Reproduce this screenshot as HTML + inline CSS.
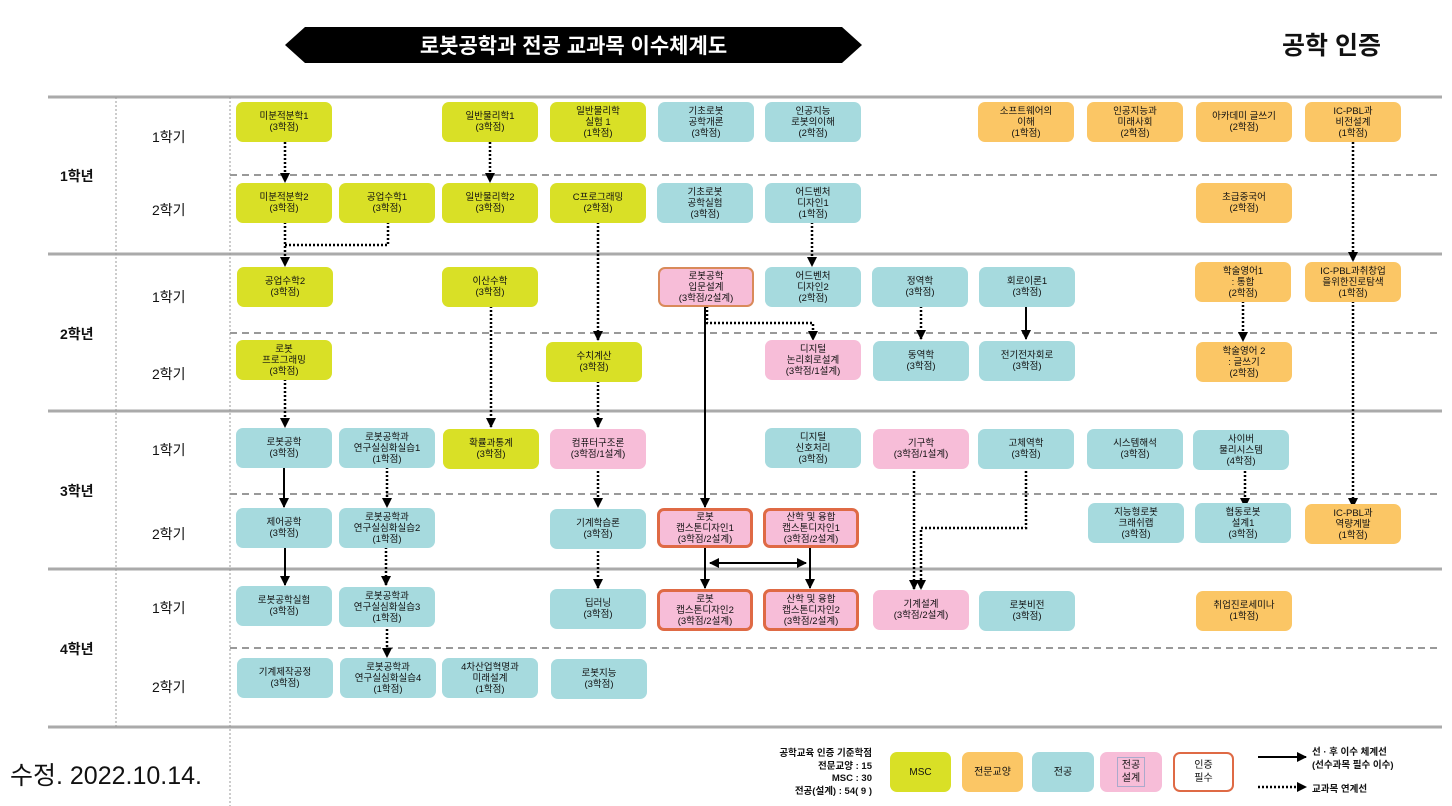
<!DOCTYPE html>
<html><head><meta charset="utf-8">
<style>
*{margin:0;padding:0;box-sizing:border-box}
body{width:1452px;height:806px;background:#fff;position:relative;overflow:hidden;font-family:"Liberation Sans","Noto Sans CJK KR",sans-serif;color:#111}
.b{position:absolute;border-radius:7px;display:flex;align-items:center;justify-content:center;text-align:center;font-size:9.5px;line-height:11px;width:96px;height:40px}
.y{background:#d9e026}.o{background:#fbc665}.t{background:#a6dade}.p{background:#f7bdd8}
.c{border:3px solid #df6a45}.c1{border:2px solid #d98a5a}
.l{position:absolute;font-size:14px}
.yr{position:absolute;font-size:14px;font-weight:bold;left:60px}
svg{position:absolute;left:0;top:0}
</style></head><body>
<svg width="1452" height="806">
<defs>
<marker id="h" markerWidth="10" markerHeight="10" refX="9" refY="5" orient="auto-start-reverse" markerUnits="userSpaceOnUse"><path d="M0,0 L10,5 L0,10 z" fill="#000"/></marker>
</defs>
<polygon points="285,45 305,27 842,27 862,45 842,63 305,63" fill="#000"/>
<g stroke="#aaa" stroke-width="3">
<line x1="48" y1="97" x2="1442" y2="97"/><line x1="48" y1="254" x2="1442" y2="254"/><line x1="48" y1="411" x2="1442" y2="411"/><line x1="48" y1="569" x2="1442" y2="569"/><line x1="48" y1="727" x2="1442" y2="727"/>
</g>
<g stroke="#999" stroke-width="2" stroke-dasharray="7,5">
<line x1="230" y1="175" x2="1442" y2="175"/><line x1="230" y1="333" x2="1442" y2="333"/><line x1="230" y1="494" x2="1442" y2="494"/><line x1="230" y1="648" x2="1442" y2="648"/>
</g>
<g stroke="#999" stroke-width="1" stroke-dasharray="2,2">
<line x1="116" y1="97" x2="116" y2="727"/><line x1="230" y1="97" x2="230" y2="806"/>
</g>
<g stroke="#000" stroke-width="2.5" stroke-dasharray="2,2" fill="none">
<path d="M285,142 V182" marker-end="url(#h)"/>
<path d="M490,142 V182" marker-end="url(#h)"/>
<path d="M285,222 V266" marker-end="url(#h)"/>
<path d="M388,222 V245 H285"/>
<path d="M598,222 V340" marker-end="url(#h)"/>
<path d="M812,222 V266" marker-end="url(#h)"/>
<path d="M1353,142 V261" marker-end="url(#h)"/>
<path d="M491,306 V427" marker-end="url(#h)"/>
<path d="M707,306 V323 H813 V340" marker-end="url(#h)"/>
<path d="M921,306 V339" marker-end="url(#h)"/>
<path d="M1243,301 V341" marker-end="url(#h)"/>
<path d="M1353,301 V507" marker-end="url(#h)"/>
<path d="M285,379 V427" marker-end="url(#h)"/>
<path d="M598,381 V427" marker-end="url(#h)"/>
<path d="M387,467 V507" marker-end="url(#h)"/>
<path d="M598,467 V507" marker-end="url(#h)"/>
<path d="M914,467 V589" marker-end="url(#h)"/>
<path d="M1026,467 V528 H921 V589" marker-end="url(#h)"/>
<path d="M1245,467 V507" marker-end="url(#h)"/>
<path d="M386,547 V585" marker-end="url(#h)"/>
<path d="M598,547 V588" marker-end="url(#h)"/>
<path d="M387,625 V657" marker-end="url(#h)"/>
<path d="M1258,787 H1306" marker-end="url(#h)"/>
</g>
<g stroke="#000" stroke-width="2" fill="none">
<path d="M705,306 V507" marker-end="url(#h)"/>
<path d="M1026,306 V339" marker-end="url(#h)"/>
<path d="M284,467 V507" marker-end="url(#h)"/>
<path d="M285,547 V585" marker-end="url(#h)"/>
<path d="M705,547 V588" marker-end="url(#h)"/>
<path d="M810,547 V588" marker-end="url(#h)"/>
<path d="M710,563 H806" marker-start="url(#h)" marker-end="url(#h)"/>
<path d="M1258,757 H1306" marker-end="url(#h)"/>
</g>
</svg>
<div style="position:absolute;left:285px;top:27px;width:577px;height:36px;color:#fff;font-weight:bold;font-size:21px;display:flex;align-items:center;justify-content:center">로봇공학과 전공 교과목 이수체계도</div>
<div style="position:absolute;left:1282px;top:26px;font-size:25px;font-weight:bold">공학 인증</div>

<div class="yr" style="top:166px">1학년</div><div class="yr" style="top:324px">2학년</div><div class="yr" style="top:481px">3학년</div><div class="yr" style="top:639px">4학년</div>
<div class="l" style="left:152px;top:127px">1학기</div><div class="l" style="left:152px;top:200px">2학기</div>
<div class="l" style="left:152px;top:287px">1학기</div><div class="l" style="left:152px;top:364px">2학기</div>
<div class="l" style="left:152px;top:440px">1학기</div><div class="l" style="left:152px;top:524px">2학기</div>
<div class="l" style="left:152px;top:598px">1학기</div><div class="l" style="left:152px;top:677px">2학기</div>

<div class="b y" style="left:236px;top:102px">미분적분학1<br>(3학점)</div>
<div class="b y" style="left:442px;top:102px">일반물리학1<br>(3학점)</div>
<div class="b y" style="left:550px;top:102px">일반물리학<br>실험 1<br>(1학점)</div>
<div class="b t" style="left:658px;top:102px">기초로봇<br>공학개론<br>(3학점)</div>
<div class="b t" style="left:765px;top:102px">인공지능<br>로봇의이해<br>(2학점)</div>
<div class="b o" style="left:978px;top:102px">소프트웨어의<br>이해<br>(1학점)</div>
<div class="b o" style="left:1087px;top:102px">인공지능과<br>미래사회<br>(2학점)</div>
<div class="b o" style="left:1196px;top:102px">아카데미 글쓰기<br>(2학점)</div>
<div class="b o" style="left:1305px;top:102px">IC-PBL과<br>비전설계<br>(1학점)</div>

<div class="b y" style="left:236px;top:183px">미분적분학2<br>(3학점)</div>
<div class="b y" style="left:339px;top:183px">공업수학1<br>(3학점)</div>
<div class="b y" style="left:442px;top:183px">일반물리학2<br>(3학점)</div>
<div class="b y" style="left:550px;top:183px">C프로그래밍<br>(2학점)</div>
<div class="b t" style="left:657px;top:183px">기초로봇<br>공학실험<br>(3학점)</div>
<div class="b t" style="left:765px;top:183px">어드벤처<br>디자인1<br>(1학점)</div>
<div class="b o" style="left:1196px;top:183px">초급중국어<br>(2학점)</div>

<div class="b y" style="left:237px;top:267px">공업수학2<br>(3학점)</div>
<div class="b y" style="left:442px;top:267px">이산수학<br>(3학점)</div>
<div class="b p c1" style="left:658px;top:267px">로봇공학<br>입문설계<br>(3학점/2설계)</div>
<div class="b t" style="left:765px;top:267px">어드벤처<br>디자인2<br>(2학점)</div>
<div class="b t" style="left:872px;top:267px">정역학<br>(3학점)</div>
<div class="b t" style="left:979px;top:267px">회로이론1<br>(3학점)</div>
<div class="b o" style="left:1195px;top:262px">학술영어1<br>: 통합<br>(2학점)</div>
<div class="b o" style="left:1305px;top:262px">IC-PBL과취창업<br>을위한진로탐색<br>(1학점)</div>

<div class="b y" style="left:236px;top:340px">로봇<br>프로그래밍<br>(3학점)</div>
<div class="b y" style="left:546px;top:342px">수치계산<br>(3학점)</div>
<div class="b p" style="left:765px;top:340px">디지털<br>논리회로설계<br>(3학점/1설계)</div>
<div class="b t" style="left:873px;top:341px">동역학<br>(3학점)</div>
<div class="b t" style="left:979px;top:341px">전기전자회로<br>(3학점)</div>
<div class="b o" style="left:1196px;top:342px">학술영어 2<br>: 글쓰기<br>(2학점)</div>

<div class="b t" style="left:236px;top:428px">로봇공학<br>(3학점)</div>
<div class="b t" style="left:339px;top:428px">로봇공학과<br>연구실심화실습1<br>(1학점)</div>
<div class="b y" style="left:443px;top:429px">확률과통계<br>(3학점)</div>
<div class="b p" style="left:550px;top:429px">컴퓨터구조론<br>(3학점/1설계)</div>
<div class="b t" style="left:765px;top:428px">디지털<br>신호처리<br>(3학점)</div>
<div class="b p" style="left:873px;top:429px">기구학<br>(3학점/1설계)</div>
<div class="b t" style="left:978px;top:429px">고체역학<br>(3학점)</div>
<div class="b t" style="left:1087px;top:429px">시스템해석<br>(3학점)</div>
<div class="b t" style="left:1193px;top:430px">사이버<br>물리시스템<br>(4학점)</div>

<div class="b t" style="left:236px;top:508px">제어공학<br>(3학점)</div>
<div class="b t" style="left:339px;top:508px">로봇공학과<br>연구실심화실습2<br>(1학점)</div>
<div class="b t" style="left:550px;top:509px">기계학습론<br>(3학점)</div>
<div class="b p c" style="left:657px;top:508px">로봇<br>캡스톤디자인1<br>(3학점/2설계)</div>
<div class="b p c" style="left:763px;top:508px">산학 및 융합<br>캡스톤디자인1<br>(3학점/2설계)</div>
<div class="b t" style="left:1088px;top:503px">지능형로봇<br>크래쉬랩<br>(3학점)</div>
<div class="b t" style="left:1195px;top:503px">협동로봇<br>설계1<br>(3학점)</div>
<div class="b o" style="left:1305px;top:504px">IC-PBL과<br>역량계발<br>(1학점)</div>

<div class="b t" style="left:236px;top:586px">로봇공학실험<br>(3학점)</div>
<div class="b t" style="left:339px;top:587px">로봇공학과<br>연구실심화실습3<br>(1학점)</div>
<div class="b t" style="left:550px;top:589px">딥러닝<br>(3학점)</div>
<div class="b p c" style="left:657px;top:589px;height:42px">로봇<br>캡스톤디자인2<br>(3학점/2설계)</div>
<div class="b p c" style="left:763px;top:589px;height:42px">산학 및 융합<br>캡스톤디자인2<br>(3학점/2설계)</div>
<div class="b p" style="left:873px;top:590px">기계설계<br>(3학점/2설계)</div>
<div class="b t" style="left:979px;top:591px">로봇비전<br>(3학점)</div>
<div class="b o" style="left:1196px;top:591px">취업진로세미나<br>(1학점)</div>

<div class="b t" style="left:237px;top:658px">기계제작공정<br>(3학점)</div>
<div class="b t" style="left:340px;top:658px">로봇공학과<br>연구실심화실습4<br>(1학점)</div>
<div class="b t" style="left:442px;top:658px">4차산업혁명과<br>미래설계<br>(1학점)</div>
<div class="b t" style="left:551px;top:659px">로봇지능<br>(3학점)</div>

<div style="position:absolute;left:10px;top:756px;font-size:25px">수정. 2022.10.14.</div>
<div style="position:absolute;left:740px;top:748px;width:132px;text-align:right;font-size:9.5px;line-height:12.5px;font-weight:bold">공학교육 인증 기준학점<br>전문교양 : 15<br>MSC : 30<br>전공(설계) : 54( 9 )</div>
<div class="b y" style="left:890px;top:752px;width:61px;font-size:10px">MSC</div>
<div class="b o" style="left:962px;top:752px;width:61px;font-size:10px">전문교양</div>
<div class="b t" style="left:1032px;top:752px;width:62px;font-size:10px">전공</div>
<div class="b p" style="left:1100px;top:752px;width:62px;font-size:10px;line-height:13px"><span style="border:1px solid #aac;padding:1px 4px">전공<br>설계</span></div>
<div class="b" style="left:1173px;top:752px;width:61px;border:2px solid #df6a45;background:#fff;font-size:10px;line-height:13px">인증<br>필수</div>
<div style="position:absolute;left:1312px;top:746px;font-size:9.5px;line-height:13px;font-weight:bold">선 · 후 이수 체계선<br>(선수과목 필수 이수)</div>
<div style="position:absolute;left:1312px;top:781px;font-size:9.5px;font-weight:bold">교과목 연계선</div>
</body></html>
